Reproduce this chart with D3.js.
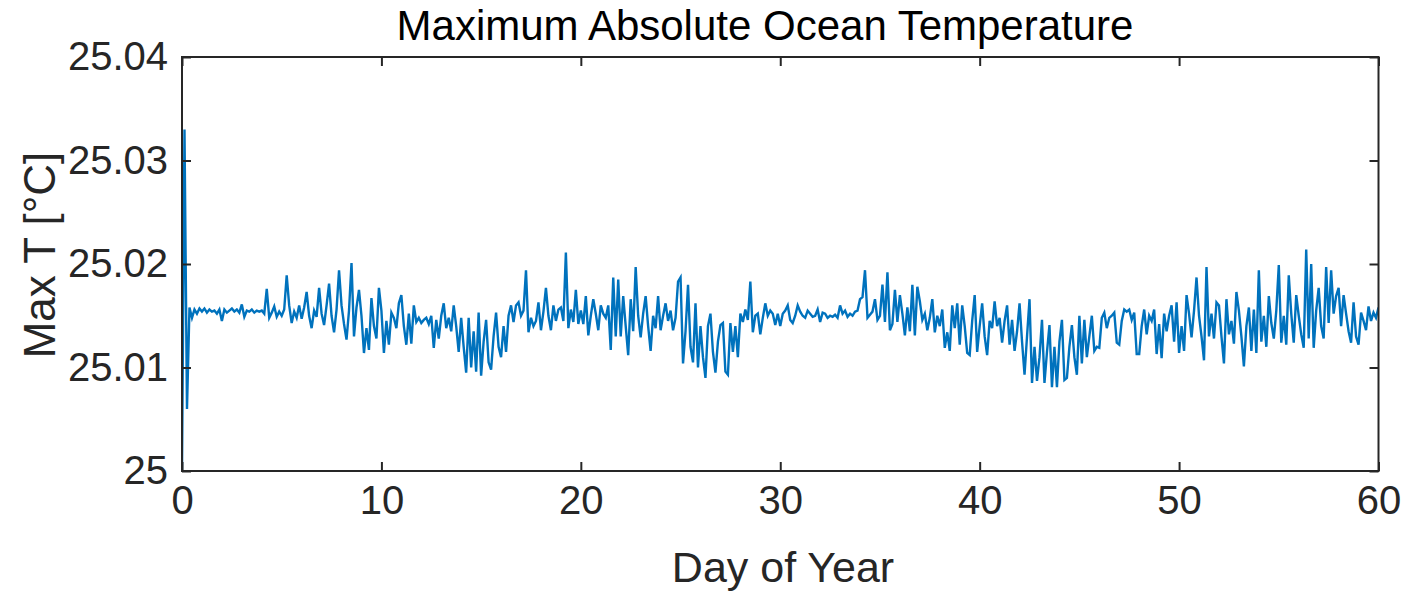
<!DOCTYPE html>
<html>
<head>
<meta charset="utf-8">
<script src="https://cdn.jsdelivr.net/npm/d3@7"></script>
<style>
  body { margin: 0; background: #fff; }
  svg { display: block; }
  text { font-family: "Liberation Sans", Arial, Helvetica, sans-serif; }
</style>
</head>
<body>
<svg width="1407" height="592"></svg>
<script>
// ################################### Data #######################################

// one row per day, 8 samples a day (every 3 h)
// values are mK above the 25 degC base
var baseT = 25;
var maxTmK = [
    0.0, 33.0, 6.0, 15.8, 14.8, 15.6, 15.2, 15.7,
    15.4, 15.7, 15.3, 15.6, 15.4, 15.5, 15.2, 15.6,
    14.5, 15.6, 15.3, 15.5, 15.7, 15.4, 15.6, 15.3,
    16.1, 14.9, 15.5, 15.4, 15.6, 15.3, 15.5, 15.4,
    15.5, 15.2, 17.6, 14.8, 15.3, 15.9, 14.9, 15.4,
    15.0, 15.6, 18.9, 16.0, 14.3, 15.4, 14.8, 16.0,
    14.7, 15.8, 17.3, 15.0, 13.8, 15.5, 14.9, 17.7,
    15.2, 14.1, 16.0, 18.1, 15.0, 13.4, 15.6, 19.4,
    16.0, 14.2, 12.7, 15.5, 20.1, 13.0, 15.8, 17.5,
    15.0, 11.4, 13.8, 11.7, 16.7, 14.0, 12.8, 17.7,
    15.5, 11.4, 14.5, 12.2, 15.3, 14.8, 13.8, 16.2,
    17.0, 14.0, 12.2, 15.2, 12.3, 16.0, 14.4, 14.8,
    14.3, 14.6, 14.8, 14.2, 15.0, 11.9, 14.6, 12.8,
    15.0, 16.2, 13.8, 14.8, 13.5, 16.0, 14.0, 11.5,
    14.8, 12.0, 9.5, 14.8, 10.0, 13.5, 9.6, 15.3,
    9.2, 12.5, 14.6, 10.5, 9.8, 13.0, 15.3, 12.0,
    11.0, 14.0, 11.5, 15.0, 16.0, 14.4, 16.0, 16.3,
    15.0, 15.5, 19.4, 13.4, 14.8, 14.0, 14.5, 16.3,
    13.6, 15.4, 17.7, 15.0, 13.6, 16.0, 14.5, 15.6,
    15.8, 14.5, 21.1, 13.8, 15.6, 14.4, 17.5, 14.2,
    15.5, 14.2, 16.9, 13.1, 15.0, 16.6, 15.2, 13.6,
    16.0, 15.2, 14.8, 16.0, 11.7, 18.7, 13.0, 18.5,
    13.0, 16.9, 14.0, 11.2, 16.6, 13.5, 19.7, 15.0,
    12.9, 15.2, 16.9, 14.0, 11.6, 15.0, 13.8, 16.9,
    13.6, 15.0, 16.2, 14.5, 15.5, 13.6, 14.8, 18.3,
    18.7, 10.4, 13.5, 18.0, 12.0, 10.5, 16.2, 10.0,
    14.0, 11.0, 9.0, 14.0, 15.2, 11.5, 9.5, 12.5,
    14.1, 14.3, 9.6, 9.3, 14.3, 11.5, 14.0, 11.0,
    15.2, 14.4, 15.6, 14.6, 18.3, 13.4, 15.0, 15.2,
    13.2, 14.8, 16.2, 15.0, 15.5, 15.2, 14.1, 15.2,
    14.0, 15.2, 15.5, 16.0, 14.6, 14.3, 15.0, 16.0,
    15.4, 15.0, 14.8, 15.5, 15.2, 14.9, 15.0, 15.6,
    14.4, 15.3, 15.2, 14.8, 15.0, 14.9, 15.1, 14.8,
    16.0, 15.2, 15.5, 14.9, 15.2, 15.0, 15.4, 15.5,
    16.6, 16.8, 19.4, 14.8, 15.1, 15.4, 16.6, 14.6,
    15.0, 18.0, 14.4, 19.2, 13.6, 14.2, 17.5, 14.4,
    17.0, 15.2, 13.1, 15.8, 13.5, 18.0, 13.1, 17.8,
    16.4, 14.6, 15.2, 13.6, 14.8, 16.6, 13.4, 15.0,
    14.0, 15.6, 11.9, 13.4, 11.6, 16.0, 13.8, 16.2,
    12.2, 16.0, 14.0, 11.4, 11.2, 14.5, 17.0, 11.5,
    14.0, 16.2, 13.0, 11.2, 14.5, 13.8, 16.4, 14.0,
    14.8, 12.4, 14.5, 16.0, 12.2, 14.6, 11.6, 13.5,
    16.2, 12.5, 9.3, 13.0, 16.6, 8.5, 12.0, 8.7,
    11.0, 14.6, 8.5, 11.5, 14.1, 8.1, 12.0, 8.1,
    12.5, 14.6, 8.8, 9.0, 12.0, 14.1, 11.0, 9.3,
    15.0, 10.4, 14.6, 11.0, 13.0, 15.0, 11.6, 12.0,
    11.9, 14.8, 15.3, 13.8, 14.8, 15.0, 15.3, 12.4,
    12.2, 14.5, 15.6, 15.4, 15.6, 14.6, 15.3, 11.3,
    11.3, 14.0, 15.6, 13.2, 15.0, 14.5, 15.6, 11.3,
    14.2, 10.9, 15.2, 13.5, 15.0, 16.0, 12.5, 16.3,
    11.4, 14.0, 11.6, 17.0, 15.2, 12.9, 15.5, 18.7,
    15.0, 13.0, 10.7, 19.7, 13.0, 15.2, 12.8, 16.3,
    16.0, 13.0, 10.4, 16.6, 13.2, 14.5, 12.3, 17.3,
    15.5, 13.0, 10.1, 14.0, 15.8, 11.6, 15.6, 11.4,
    19.4, 12.5, 15.0, 12.0, 16.9, 14.3, 12.8, 15.5,
    19.9, 12.4, 15.0, 12.2, 18.9, 15.2, 12.4, 17.0,
    15.0, 13.2, 11.9, 21.4, 12.8, 20.0, 11.9, 15.5,
    17.7, 14.0, 12.8, 19.7, 14.3, 19.4, 15.2, 16.9,
    17.7, 14.0, 17.0, 15.2, 13.5, 12.4, 16.3, 13.0,
    12.2, 15.3, 14.5, 13.6, 15.9, 14.5, 15.3, 14.8,
    15.8
];
var samplesPerDay = 8;

var xTicks = [0, 10, 20, 30, 40, 50, 60];
var yTicks = [25, 25.01, 25.02, 25.03, 25.04];
var yTickLabels = ['25', '25.01', '25.02', '25.03', '25.04'];

// ################################### Layout #######################################

var svg = d3.select('svg');

var plot = {l: 182, r: 1378.5, t: 57, b: 471};
var tickLen = 9;
var axisColor = '#262626';
var lineColor = '#0072BD';

var xScale = d3.scaleLinear().domain([0, 60]).range([plot.l, plot.r]);
var yScale = d3.scaleLinear().domain([25, 25.04]).range([plot.b, plot.t]);

var series = maxTmK.map(function(v, i) {
    return {day: i / samplesPerDay, t: baseT + v / 1000};
});

// ################################### Line #######################################

svg.append('defs').append('clipPath').attr('id', 'clip')
    .append('rect')
    .attr('x', plot.l).attr('y', plot.t)
    .attr('width', plot.r - plot.l).attr('height', plot.b - plot.t);

var line = d3.line()
    .x(function(d) { return xScale(d.day); })
    .y(function(d) { return yScale(d.t); });

svg.append('path')
    .datum(series)
    .attr('clip-path', 'url(#clip)')
    .attr('fill', 'none')
    .attr('stroke', lineColor)
    .attr('stroke-width', 2.4)
    .attr('stroke-linejoin', 'miter')
    .attr('d', line);

// ################################### Axes #######################################

// ticks pointing inward on all four sides (box on)
svg.append('g')
    .attr('transform', 'translate(0,' + plot.b + ')')
    .call(d3.axisBottom(xScale).tickValues(xTicks).tickSizeInner(-tickLen).tickSizeOuter(0).tickPadding(15))
    .call(function(g) {
        g.select('.domain').remove();
        g.selectAll('line').attr('stroke', axisColor).attr('stroke-width', 2);
        g.selectAll('text').attr('font-size', '40px').attr('fill', axisColor);
    });

svg.append('g')
    .attr('transform', 'translate(0,' + plot.t + ')')
    .call(d3.axisTop(xScale).tickValues(xTicks).tickSizeInner(-tickLen).tickSizeOuter(0).tickFormat(''))
    .call(function(g) {
        g.select('.domain').remove();
        g.selectAll('line').attr('stroke', axisColor).attr('stroke-width', 2);
    });

svg.append('g')
    .attr('transform', 'translate(' + plot.l + ',0)')
    .call(d3.axisLeft(yScale).tickValues(yTicks).tickSizeInner(-tickLen).tickSizeOuter(0).tickPadding(14)
        .tickFormat(function(d, i) { return yTickLabels[i]; }))
    .call(function(g) {
        g.select('.domain').remove();
        g.selectAll('line').attr('stroke', axisColor).attr('stroke-width', 2);
        g.selectAll('text').attr('font-size', '40px').attr('fill', axisColor);
    });

svg.append('g')
    .attr('transform', 'translate(' + plot.r + ',0)')
    .call(d3.axisRight(yScale).tickValues(yTicks).tickSizeInner(-tickLen).tickSizeOuter(0).tickFormat(''))
    .call(function(g) {
        g.select('.domain').remove();
        g.selectAll('line').attr('stroke', axisColor).attr('stroke-width', 2);
    });

// frame
svg.append('rect')
    .attr('x', plot.l).attr('y', plot.t)
    .attr('width', plot.r - plot.l).attr('height', plot.b - plot.t)
    .attr('fill', 'none')
    .attr('stroke', axisColor)
    .attr('stroke-width', 2);

// ################################### Labels #######################################

svg.append('text')
    .attr('x', 765).attr('y', 40)
    .attr('text-anchor', 'middle')
    .attr('font-size', '42px')
    .attr('fill', '#000')
    .text('Maximum Absolute Ocean Temperature');

svg.append('text')
    .attr('x', 783).attr('y', 582)
    .attr('text-anchor', 'middle')
    .attr('font-size', '43px')
    .attr('fill', axisColor)
    .text('Day of Year');

svg.append('text')
    .attr('transform', 'translate(55,255) rotate(-90)')
    .attr('text-anchor', 'middle')
    .attr('font-size', '44px')
    .attr('fill', axisColor)
    .text('Max T [°C]');
</script>
</body>
</html>
